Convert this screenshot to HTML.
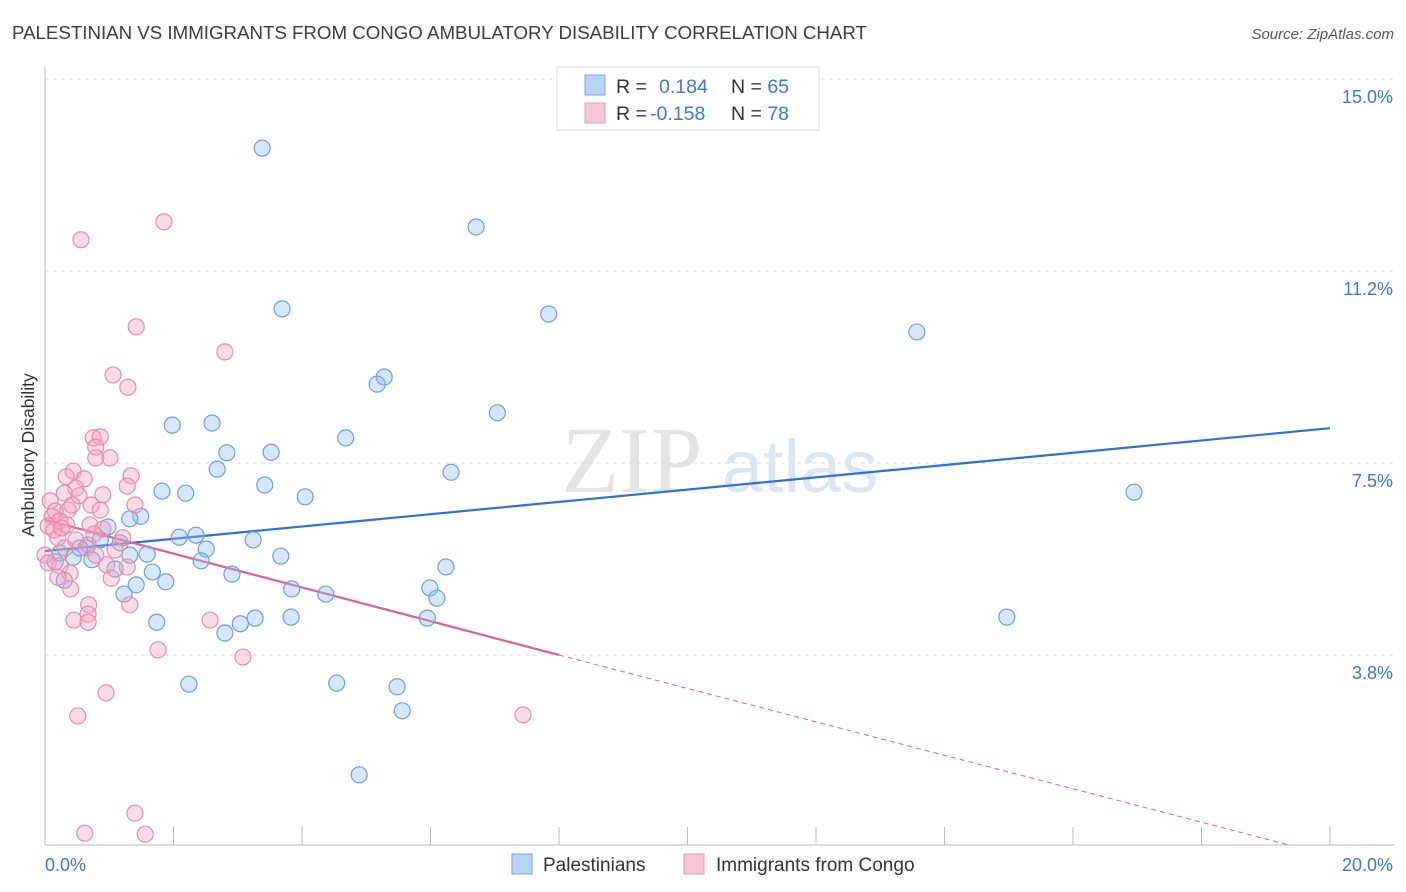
<!DOCTYPE html>
<html><head><meta charset="utf-8">
<style>
body{margin:0;background:#fff;font-family:"Liberation Sans",sans-serif;}
#wrap{position:relative;width:1406px;height:892px;overflow:hidden;}
</style></head>
<body>
<div id="wrap">
<svg id="chart" width="1406" height="892" xmlns="http://www.w3.org/2000/svg">
<text x="12" y="39" font-size="18.7" fill="#3c3c3c">PALESTINIAN VS IMMIGRANTS FROM CONGO AMBULATORY DISABILITY CORRELATION CHART</text>
<text x="1394" y="39" font-size="15" fill="#555" font-style="italic" text-anchor="end">Source: ZipAtlas.com</text>
<text x="0" y="0" transform="translate(34,455) rotate(-90)" font-size="17.5" fill="#333" text-anchor="middle">Ambulatory Disability</text>
<g>
<text x="632" y="492" font-size="94" font-family="Liberation Serif,serif" fill="#e4e4e4" text-anchor="middle">ZIP</text>
<text x="800" y="492" font-size="74" fill="#dbe6f5" text-anchor="middle">atlas</text>
</g>
<g id="grid"></g><g id="axes"></g><g id="lines"></g><g id="pts"></g>
<g>
<rect x="557" y="67" width="262" height="63" fill="#fff" stroke="#ddd"/>
<rect x="585" y="75" width="20" height="20" fill="#b9d3f5" stroke="#7aa6e2"/>
<rect x="585" y="103" width="20" height="20" fill="#f8c6d6" stroke="#e99ab5"/>
<text x="616" y="93" font-size="19.5" fill="#333">R = <tspan fill="#3a78d8" x="659">0.184</tspan><tspan x="731" fill="#333">N = </tspan><tspan fill="#3a78d8">65</tspan></text>
<text x="616" y="120" font-size="19.5" fill="#333">R = <tspan fill="#3a78d8" x="650">-0.158</tspan><tspan x="731" fill="#333">N = </tspan><tspan fill="#3a78d8">78</tspan></text>
</g>
<g>
<rect x="512" y="854" width="20" height="20" fill="#b9d3f5" stroke="#7aa6e2"/>
<text x="543" y="871" font-size="19" fill="#333">Palestinians</text>
<rect x="684" y="854" width="20" height="20" fill="#f8c6d6" stroke="#e99ab5"/>
<text x="716" y="871" font-size="19" fill="#333">Immigrants from Congo</text>
</g>
</svg>
</div>
<script>
const yTicks=[3.75,7.5,11.25,15];
const yTickLabels=["3.8%","7.5%","11.2%","15.0%"];
const xTicks=[0,2,4,6,8,10,12,14,16,18,20];
const blueX=[3.38,6.71,3.69,7.84,13.57,5.28,5.17,7.04,1.98,2.60,4.68,2.83,3.52,6.32,2.68,3.42,1.82,2.19,4.05,16.95,1.49,1.32,0.98,2.35,2.09,1.17,3.24,0.67,2.51,1.59,1.32,3.67,2.43,0.73,0.16,0.44,1.09,1.67,2.91,6.24,5.99,3.84,1.23,1.88,1.42,4.37,6.10,0.30,1.74,3.27,3.04,2.80,3.83,5.95,14.97,2.24,4.54,5.48,5.56,4.89,0.54,0.23,0.86];
const blueY=[13.65,12.11,10.51,10.41,10.06,9.18,9.04,8.48,8.24,8.28,7.99,7.70,7.71,7.32,7.38,7.07,6.95,6.91,6.84,6.93,6.46,6.41,6.25,6.09,6.05,5.94,6.00,5.90,5.82,5.72,5.70,5.68,5.59,5.61,5.57,5.66,5.43,5.37,5.33,5.47,5.06,5.04,4.94,5.18,5.12,4.94,4.86,5.21,4.39,4.47,4.36,4.18,4.49,4.47,4.49,3.18,3.20,3.13,2.66,1.41,5.84,5.74,6.00];
const pinkX=[1.85,0.56,1.42,2.80,1.06,1.29,0.75,0.86,0.79,1.01,0.79,1.34,1.28,0.44,0.33,0.61,0.48,0.30,0.53,0.90,1.40,0.72,0.08,0.16,0.36,0.11,0.23,0.34,0.05,0.14,0.70,0.90,0.76,1.21,0.20,0.48,0.64,0.31,0.00,0.05,0.23,0.79,0.96,1.28,1.03,0.39,0.20,0.40,0.68,0.67,0.45,0.67,1.32,2.57,1.76,3.08,0.95,0.51,7.44,1.40,0.62,1.56,0.26,0.86,1.09,0.42];
const pinkY=[12.21,11.86,10.16,9.67,9.22,8.98,7.99,8.01,7.81,7.60,7.60,7.25,7.05,7.34,7.23,7.19,7.01,6.91,6.86,6.88,6.68,6.68,6.76,6.56,6.58,6.45,6.37,6.29,6.27,6.19,6.29,6.21,6.11,6.04,6.04,6.00,5.84,5.84,5.70,5.55,5.49,5.70,5.51,5.47,5.25,5.35,5.27,5.04,4.73,4.55,4.43,4.39,4.73,4.43,3.85,3.71,3.01,2.56,2.58,0.66,0.27,0.25,6.23,6.58,5.80,6.68];
const blueTrend=[5.78,8.18];
const pinkTrend=[6.39,-0.21];
const pinkSolidEnd=8;
const X=v=>45+v*64.25, Y=v=>847-v*51.2;
const NS="http://www.w3.org/2000/svg";
function mk(tag,attrs,parent){const e=document.createElementNS(NS,tag);for(const k in attrs)e.setAttribute(k,attrs[k]);parent.appendChild(e);return e;}
const grid=document.getElementById('grid'),axes=document.getElementById('axes'),lines=document.getElementById('lines'),pts=document.getElementById('pts');
yTicks.forEach((t,i)=>{
 const l=mk('line',{x1:45,x2:1395,y1:Y(t),y2:Y(t),stroke:'#dcdcdc','stroke-dasharray':'4 4'},grid);
 
 
 const tx=mk('text',{x:1393,y:Y(t)+24,'font-size':18,fill:'#3a78d8','text-anchor':'end'},axes);
 tx.textContent=yTickLabels[i];
 
 
});
const topG=mk('line',{x1:45,x2:1395,y1:79,y2:79,stroke:'#dcdcdc','stroke-dasharray':'4 4'},grid);


const ya=mk('line',{x1:45,x2:45,y1:67,y2:845,stroke:'#bbb'},axes);


const xa=mk('line',{x1:45,x2:1395,y1:845,y2:845,stroke:'#bbb'},axes);


xTicks.forEach(t=>{
 const l=mk('line',{x1:X(t),x2:X(t),y1:827,y2:845,stroke:'#bbb'},axes);
 
 
});
const x0=mk('text',{x:45,y:871,'font-size':18,fill:'#3a78d8'},axes);x0.textContent='0.0%';


const x1=mk('text',{x:1393,y:871,'font-size':18,fill:'#3a78d8','text-anchor':'end'},axes);x1.textContent='20.0%';


function draw(xs,ys,fill,stroke,name){
 xs.forEach((x,i)=>{
  const c=mk('circle',{cx:X(x),cy:Y(ys[i]),r:8,fill:fill,stroke:stroke,'stroke-width':1.2},pts);
  
  
 });
}
draw(blueX,blueY,'rgba(150,190,240,0.38)','#6c9fe2','palestinian-point');
draw(pinkX,pinkY,'rgba(245,160,190,0.38)','#e88cad','congo-point');
const bl=mk('line',{x1:X(0),y1:Y(blueTrend[0]),x2:X(20),y2:Y(blueTrend[1]),stroke:'#2f6fd6','stroke-width':2.2},lines);


const pv=x=>pinkTrend[0]+(pinkTrend[1]-pinkTrend[0])*x/20;
const pl=mk('line',{x1:X(0),y1:Y(pv(0)),x2:X(pinkSolidEnd),y2:Y(pv(pinkSolidEnd)),stroke:'#e0608e','stroke-width':2.2},lines);


const zx=pinkTrend[0]/(pinkTrend[0]-pinkTrend[1])*20;
const pd=mk('line',{x1:X(pinkSolidEnd),y1:Y(pv(pinkSolidEnd)),x2:X(zx),y2:Y(0)-2,stroke:'#e0608e','stroke-width':1,'stroke-dasharray':'5 4'},lines);


</script>
</body></html>
